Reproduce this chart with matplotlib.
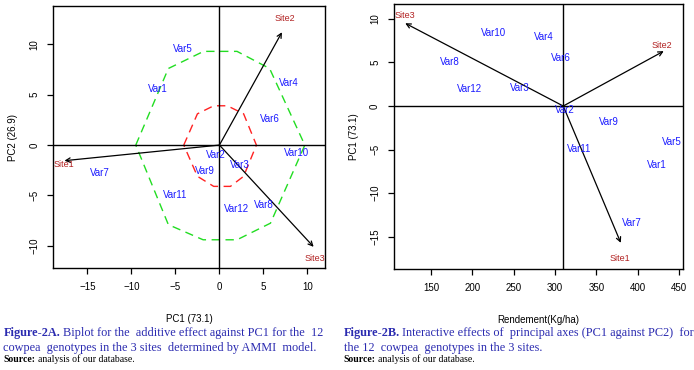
import matplotlib
matplotlib.use("Agg")
import matplotlib.pyplot as plt

# ---- Figure 2A: biplot, PC1 vs PC2 ----
vars_a = ["Var5", "Var1", "Var4", "Var6", "Var10", "Var2", "Var9", "Var3",
          "Var7", "Var11", "Var12", "Var8"]
pc1_a = [-4.1, -7.0, 7.9, 5.7, 8.8, -0.45, -1.7, 2.3, -13.6, -5.0, 1.9, 5.1]
pc2_a = [9.5, 5.6, 6.2, 2.6, -0.8, -1.0, -2.6, -2.0, -2.8, -5.0, -6.3, -5.9]

sites = ["Site1", "Site2", "Site3"]
site_pc1_a = [-17.6, 7.1, 10.7]
site_pc2_a = [-1.55, 11.2, -10.1]
site_lab_x_a = [-17.7, 7.4, 10.8]
site_lab_y_a = [-1.9, 12.6, -11.3]

green_x = [-9.5, -5.8, -1.8, 2.0, 5.7, 9.7, 5.8, 2.0, -1.85, -5.8, -9.5]
green_y = [0, 7.6, 9.3, 9.3, 7.6, 0, -7.75, -9.4, -9.4, -7.9, 0]
red_x = [-4.05, -2.5, -0.65, 0.9, 2.75, 4.2, 2.75, 1.25, -0.65, -2.5, -4.05]
red_y = [0, 3.1, 3.9, 3.9, 3.1, 0, -3.1, -4.1, -4.1, -3.1, 0]

# ---- Figure 2B: yield vs PC1 ----
vars_b = ["Var10", "Var4", "Var6", "Var8", "Var12", "Var3", "Var2", "Var9",
          "Var5", "Var11", "Var1", "Var7"]
yield_b = [226, 286, 307, 173, 196, 257, 312, 365, 442, 329, 423, 393]
pc1_b = [8.4, 7.9, 5.5, 5.0, 1.9, 2.1, -0.46, -1.8, -4.1, -4.9, -6.8, -13.4]
mean_yield = 310
site_x_b = [379.7, 431.7, 118.6]
site_y_b = [-15.7, 6.3, 9.5]
site_lab_x_b = [378, 429, 118.6]
site_lab_y_b = [-17.5, 6.9, 10.4]

caption_a = ["Biplot for the  additive effect against PC1 for the  12",
             "cowpea  genotypes in the 3 sites  determined by AMMI  model."]
caption_b = ["Interactive effects of  principal axes (PC1 against PC2)  for",
             "the 12  cowpea  genotypes in the 3 sites."]

blue = "#1a1aff"
site_col = "#b22222"
tick_font = "Liberation Sans"

fig = plt.figure(figsize=(6.94, 3.70), dpi=100)
ax1 = fig.add_axes([0.0764, 0.2757, 0.392, 0.708])
ax2 = fig.add_axes([0.5677, 0.2730, 0.4164, 0.716])


def style(ax):
    for s in ax.spines.values():
        s.set_linewidth(1.0)
    ax.tick_params(direction="out", length=4, width=0.9, labelsize=7, pad=6)
    for lab in ax.get_xticklabels() + ax.get_yticklabels():
        lab.set_fontfamily(tick_font)
    for lab in ax.get_yticklabels():
        lab.set_rotation(90)
        lab.set_va("center")


# left panel
ax1.plot(green_x, green_y, color="#22dd22", lw=1.0, ls=(0, (6, 4)))
ax1.plot(red_x, red_y, color="#ff2222", lw=1.0, ls=(0, (6, 4)))
ax1.axhline(0, color="black", lw=1.0)
ax1.axvline(0, color="black", lw=1.0)
for i in range(len(sites)):
    ax1.annotate("", xy=(site_pc1_a[i], site_pc2_a[i]), xytext=(0, 0),
                 arrowprops=dict(arrowstyle="->", lw=0.9, color="black",
                                 shrinkA=0, shrinkB=0, mutation_scale=8))
    ax1.text(site_lab_x_a[i], site_lab_y_a[i], sites[i], color=site_col,
             fontsize=6.5, ha="center", va="center", family=tick_font)
for i in range(len(vars_a)):
    ax1.text(pc1_a[i], pc2_a[i], vars_a[i], color=blue, fontsize=7,
             ha="center", va="center", family=tick_font)
ax1.set_xlim(-18.9, 12.0)
ax1.set_ylim(-12.2, 13.8)
ax1.set_xticks([-15, -10, -5, 0, 5, 10])
ax1.set_yticks([-10, -5, 0, 5, 10])
style(ax1)
ax1.set_xlabel("PC1 (73.1)", fontsize=7, family=tick_font, labelpad=16)
ax1.set_ylabel("PC2 (26.9)", fontsize=7, family=tick_font, labelpad=8)

# right panel
ax2.axhline(0, color="black", lw=1.0)
ax2.axvline(mean_yield, color="black", lw=1.0)
for i in range(len(sites)):
    ax2.annotate("", xy=(site_x_b[i], site_y_b[i]), xytext=(mean_yield, 0),
                 arrowprops=dict(arrowstyle="->", lw=0.9, color="black",
                                 shrinkA=0, shrinkB=0, mutation_scale=8))
    ax2.text(site_lab_x_b[i], site_lab_y_b[i], sites[i], color=site_col,
             fontsize=6.5, ha="center", va="center", family=tick_font)
for i in range(len(vars_b)):
    ax2.text(yield_b[i], pc1_b[i], vars_b[i], color=blue, fontsize=7,
             ha="center", va="center", family=tick_font)
ax2.set_xlim(105, 455)
ax2.set_ylim(-18.7, 11.7)
ax2.set_xticks([150, 200, 250, 300, 350, 400, 450])
ax2.set_yticks([-15, -10, -5, 0, 5, 10])
style(ax2)
ax2.set_xlabel("Rendement(Kg/ha)", fontsize=7, family=tick_font, labelpad=16)
ax2.set_ylabel("PC1 (73.1)", fontsize=7, family=tick_font, labelpad=8)

# captions: bold lead-in followed by regular text
cap_col = "#2b2bb0"
serif = "Liberation Serif"
renderer = fig.canvas.get_renderer()


def run_on(x, y, first, rest, size, color, **kw):
    t = fig.text(x, y, first, color=color, fontsize=size, family=serif,
                 weight="bold", va="center", **kw)
    bb = t.get_window_extent(renderer)
    x2 = bb.x1 / fig.bbox.width + 0.004
    fig.text(x2, y, rest, color=color, fontsize=size, family=serif,
             va="center", **kw)


y1, y2, y3 = 1 - 333 / 370, 1 - 348 / 370, 1 - 359 / 370
cap_size = 8.8
run_on(0.005, y1, "Figure-2A.", caption_a[0], cap_size, cap_col)
fig.text(0.005, y2, caption_a[1], color=cap_col, fontsize=cap_size,
         family=serif, va="center")
run_on(0.005, y3, "Source:", "analysis of our database.", 7, "black")

run_on(0.495, y1, "Figure-2B.", caption_b[0], cap_size, cap_col)
fig.text(0.495, y2, caption_b[1], color=cap_col, fontsize=cap_size,
         family=serif, va="center")
run_on(0.495, y3, "Source:", "analysis of our database.", 7, "black")

fig.savefig("out.png", dpi=100)
